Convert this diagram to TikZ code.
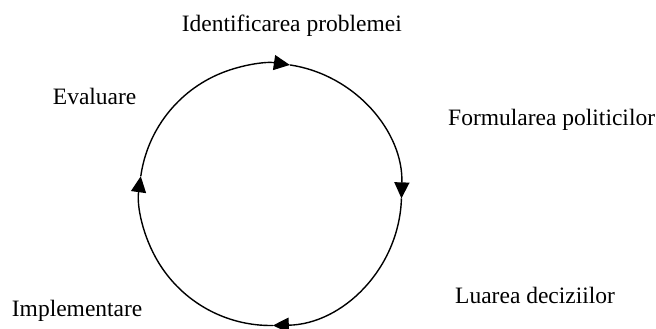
\documentclass[tikz,border=0pt]{standalone}
\usepackage{fontspec}
\setmainfont{Liberation Serif}
\usetikzlibrary{arrows.meta}
\begin{document}
\begin{tikzpicture}[x=1pt,y=1pt,
    etapa/.style={anchor=base west, inner sep=0pt, font=\fontsize{23.5}{28}\selectfont},
    ciclu/.style={line width=1.4pt, -{Triangle[length=16pt,width=15pt]}}]
    \useasboundingbox (0,0) rectangle (656,329);
    \coordinate (c) at (270.5,134.5);

    \node[etapa] (ident) at (181.7,297.3) {Identificarea problemei};
    \node[etapa] (form) at (448,203) {Formularea politicilor};
    \node[etapa] (dec) at (455,25.7) {Luarea deciziilor};
    \node[etapa] (impl) at (11.7,12.3) {Implementare};
    \node[etapa] (eval) at (52.7,224) {Evaluare};

    \draw[ciclu] (c) ++(172:131) arc[start angle=172, end angle=81.5, radius=131];
    \draw[ciclu] (c) ++(81.5:131) arc[start angle=81.5, end angle=-1.7, radius=131];
    \draw[ciclu] (c) ++(-1.7:131) arc[start angle=-1.7, end angle=-89, radius=131];
    \draw[ciclu] (c) ++(-89:131) arc[start angle=-89, end angle=-188, radius=131];
  \end{tikzpicture}
\end{document}
